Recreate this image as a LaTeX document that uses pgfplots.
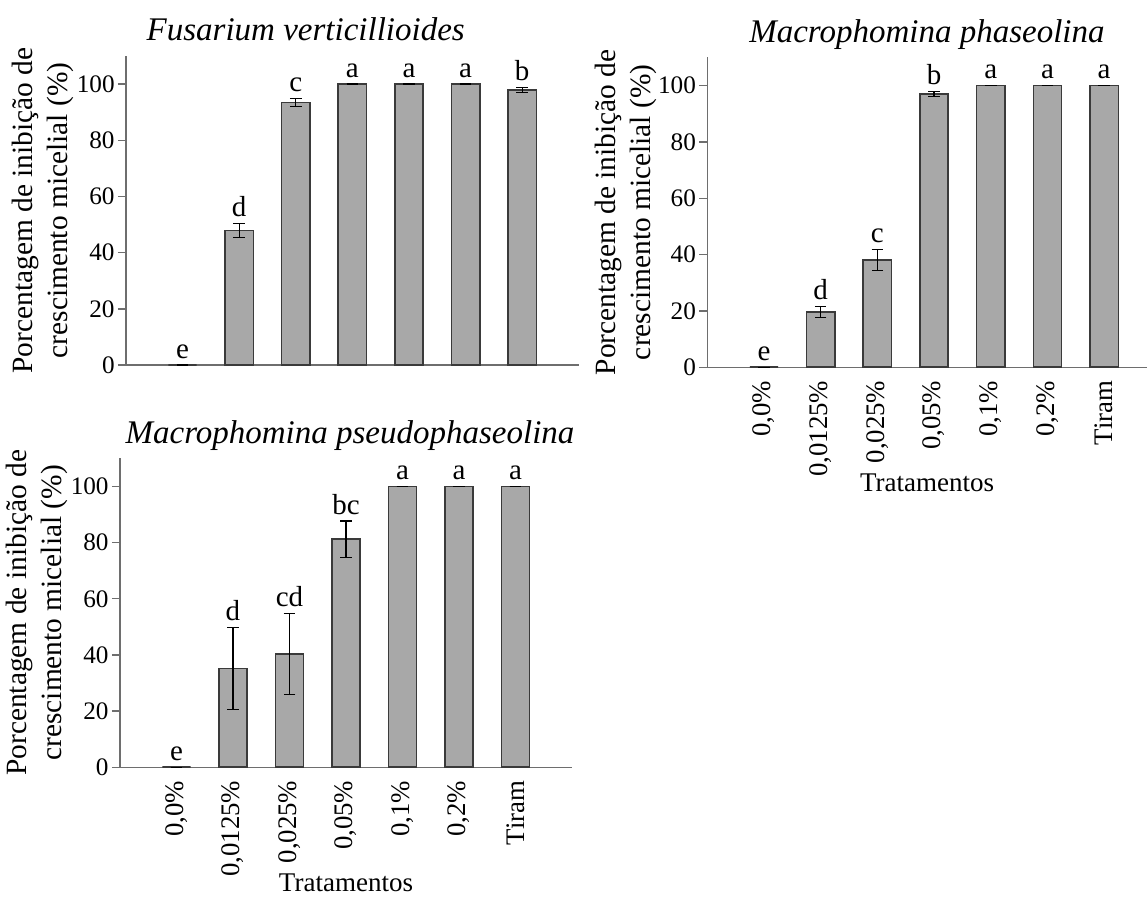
\documentclass[border=0pt]{standalone}
\usepackage{fontspec}
\setmainfont{Liberation Serif}
\usepackage{pgfplots}
\pgfplotsset{compat=1.18}
\usepackage{pgfplotstable}

\definecolor{barfill}{HTML}{A8A8A8}
\definecolor{baredge}{HTML}{3A3A3A}
\definecolor{axisgray}{HTML}{6E6E6E}

\pgfplotstableread{
x y err lab
1 0 0 e
2 47.9 2.5 d
3 93.5 1.5 c
4 100 0 a
5 100 0 a
6 100 0 a
7 97.9 0.9 b
}\fusarium

\pgfplotstableread{
x y err lab
1 0 0 e
2 19.6 2.0 d
3 38.1 3.7 c
4 97.0 0.8 b
5 100 0 a
6 100 0 a
7 100 0 a
}\phaseolina

\pgfplotstableread{
x y err lab
1 0 0 e
2 35.2 14.7 d
3 40.3 14.4 cd
4 81.2 6.5 bc
5 100 0 a
6 100 0 a
7 100 0 a
}\pseudo

\pgfplotsset{
  panel/.style={
    scale only axis, anchor=south west,
    xmin=0, ymin=0, ymax=110,
    axis x line=bottom, axis y line=left,
    axis line style={-, axisgray, line width=0.7pt},
    ytick={0,20,...,100},
    xtick={1,...,7},
    x tick style={draw=none},
    y tick style={axisgray, line width=0.7pt},
    tick align=outside, major tick length=4pt,
    yticklabel style={font=\fontsize{12.6}{15}\selectfont, inner sep=1.5pt},
    /pgf/number format/assume math mode=true,
    ylabel={Porcentagem de inibição de\\crescimento micelial (\%)},
    ylabel style={at={(axis description cs:-0.1,0.5)}, anchor=south, align=center, font=\fontsize{14.7}{17.5}\selectfont},
    title style={anchor=base, yshift=1.5pt, font=\fontsize{16.5}{18}\selectfont\itshape},
    clip=false,
  },
  withlabels/.style={
    xticklabels={{0,0\%},{0,0125\%},{0,025\%},{0,05\%},{0,1\%},{0,2\%},Tiram},
    xticklabel style={rotate=90, anchor=east, inner sep=2.5pt, font=\fontsize{13.4}{15}\selectfont},
    xlabel={Tratamentos},
    xlabel style={font=\fontsize{13.5}{15}\selectfont, inner sep=0pt, yshift=4pt},
  },
  nolabels/.style={xticklabels={}},
  bars/.style={ybar, bar width=0.5, fill=barfill, draw=baredge, line width=0.8pt,
    error bars/.cd, y dir=both, y explicit,
    error bar style={black, line width=0.6pt},
    error mark options={rotate=90, black, mark size=2.9pt, line width=0.6pt}},
  letters/.style={draw=none, mark=none, nodes near coords, point meta=explicit symbolic,
    nodes near coords style={inner sep=0pt, yshift=3pt, font=\fontsize{14.5}{16}\selectfont, black}},
}

\begin{document}
\begin{tikzpicture}
\path[use as bounding box] (0,0) rectangle (574pt,-448.5pt);

\begin{axis}[panel, nolabels, at={(63pt,-182.5pt)}, width=226.4pt, height=154.5pt, xmax=8,
  title={Fusarium verticillioides}, title style={at={(axis description cs:0.397,1)}}]
\addplot[bars] table[x=x, y=y, y error=err]{\fusarium};
\addplot[letters] table[x=x, y expr=\thisrow{y}+\thisrow{err}, meta=lab]{\fusarium};
\end{axis}

\begin{axis}[panel, withlabels, at={(353.65pt,-183.65pt)}, width=219.7pt, height=155pt, xmax=7.75,
  title={Macrophomina phaseolina}, title style={at={(axis description cs:0.5,1)}}]
\addplot[bars] table[x=x, y=y, y error=err]{\phaseolina};
\addplot[letters] table[x=x, y expr=\thisrow{y}+\thisrow{err}, meta=lab]{\phaseolina};
\end{axis}

\begin{axis}[panel, withlabels, at={(60pt,-383.65pt)}, width=226pt, height=154.5pt, xmax=8,
  title={Macrophomina pseudophaseolina}, title style={at={(axis description cs:0.509,1)}}]
\addplot[bars] table[x=x, y=y, y error=err]{\pseudo};
\addplot[letters] table[x=x, y expr=\thisrow{y}+\thisrow{err}, meta=lab]{\pseudo};
\end{axis}
\end{tikzpicture}
\end{document}
